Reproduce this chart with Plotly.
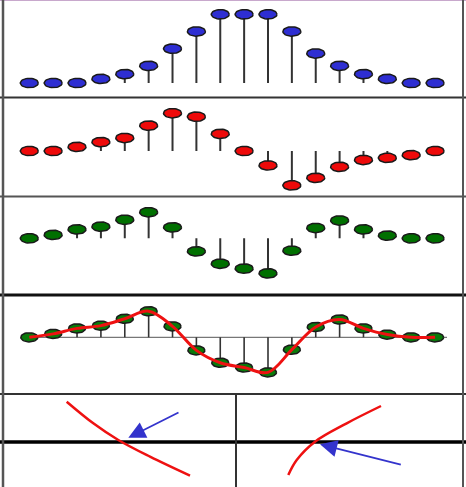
import numpy as np
import plotly.graph_objects as go

# ---------------- data ----------------
idx = list(range(18))
blue_vals = [0, 0, 0, 0.06, 0.13, 0.25, 0.5, 0.75, 1.0, 1.0, 1.0, 0.75, 0.43, 0.25, 0.13, 0.06, 0, 0]
red_vals = [0, 0, 0.06, 0.13, 0.19, 0.37, 0.55, 0.5, 0.25, 0, -0.21, -0.5, -0.39, -0.23, -0.13, -0.10, -0.06, 0]
green_vals = [0, 0.05, 0.13, 0.17, 0.27, 0.38, 0.16, -0.19, -0.37, -0.44, -0.51, -0.18, 0.15, 0.26, 0.13, 0.04, 0, 0]

# bottom panel (picture coordinates)
left_curve_x = [66.7, 93.3, 118.3, 150, 190]
left_curve_y = [401.7, 423.3, 440, 456.7, 475.7]
right_curve_x = [288.3, 296.7, 315, 346.7, 381]
right_curve_y = [475, 460, 441.7, 423.3, 406]
arrow_tails = [(180, 411.7), (402.3, 465)]
arrow_heads = [(128.3, 437.7), (320, 444.3)]

# ---------------- geometry ----------------
W, H = 466, 487
x0px, dxpx = 29.3, 23.87
scale = 68.7  # px per value unit
xrange_ = [-x0px / dxpx, (W - x0px) / dxpx]

# (top px, bottom px, baseline px)
panels = [(0, 97.5, 83), (97.5, 196.5, 151), (196.5, 295, 238.3), (295, 394, 337.3)]

fig = go.Figure()
layout = dict(width=W, height=H, margin=dict(l=0, r=0, t=0, b=0),
              paper_bgcolor="white", plot_bgcolor="white", showlegend=False)

def ellipse_trace(xs, ys, rx, ry, fill, xa, ya, lw=1.5):
    t = np.linspace(0, 2 * np.pi, 40)
    px, py = [], []
    for xv, yv in zip(xs, ys):
        px += list(xv + rx * np.cos(t)) + [None]
        py += list(yv + ry * np.sin(t)) + [None]
    return go.Scatter(x=px, y=py, mode="lines", fill="toself", fillcolor=fill,
                      line=dict(color="#1a1a1a", width=lw), xaxis=xa, yaxis=ya,
                      hoverinfo="skip")

def stems_trace(xs, ys, xa, ya, color="#333333", width=2):
    sx, sy = [], []
    for xv, yv in zip(xs, ys):
        sx += [xv, xv, None]
        sy += [0, yv, None]
    return go.Scatter(x=sx, y=sy, mode="lines", line=dict(color=color, width=width),
                      xaxis=xa, yaxis=ya, hoverinfo="skip")

series = [(blue_vals, "#2e2ed2"), (red_vals, "#ee0a0a"), (green_vals, "#007000"), (green_vals, "#0a7a0a")]

for k, ((top, bot, base), (vals, col)) in enumerate(zip(panels, series)):
    n = k + 1
    xa = "x" if n == 1 else f"x{n}"
    ya = "y" if n == 1 else f"y{n}"
    layout["xaxis" if n == 1 else f"xaxis{n}"] = dict(domain=[0, 1], range=xrange_, visible=False,
                                                      anchor=ya, fixedrange=True)
    layout["yaxis" if n == 1 else f"yaxis{n}"] = dict(domain=[1 - bot / H, 1 - top / H],
                                                      range=[-(bot - base) / scale, (base - top) / scale],
                                                      visible=False, anchor=xa, fixedrange=True)
    if n == 4:
        fig.add_trace(go.Scatter(x=[-0.15, 17.5], y=[0, 0], mode="lines",
                                 line=dict(color="#555555", width=1), xaxis=xa, yaxis=ya, hoverinfo="skip"))
        fig.add_trace(stems_trace(idx, vals, xa, ya, width=1.6))
        fig.add_trace(ellipse_trace(idx, vals, 8.5 / dxpx, 4.6 / scale, col, xa, ya, lw=1.5))
        fig.add_trace(go.Scatter(x=idx, y=vals, mode="lines",
                                 line=dict(color="#ee1111", width=3, shape="spline", smoothing=1.0),
                                 xaxis=xa, yaxis=ya, hoverinfo="skip"))
    else:
        fig.add_trace(stems_trace(idx, vals, xa, ya))
        fig.add_trace(ellipse_trace(idx, vals, 9.0 / dxpx, 4.7 / scale, col, xa, ya))

# bottom panel
layout["xaxis5"] = dict(domain=[0, 1], range=[0, W], visible=False, anchor="y5", fixedrange=True)
layout["yaxis5"] = dict(domain=[0, 1 - 394 / H], range=[H, 394], visible=False, anchor="x5", fixedrange=True)
for cx, cy in [(left_curve_x, left_curve_y), (right_curve_x, right_curve_y)]:
    fig.add_trace(go.Scatter(x=cx, y=cy, mode="lines",
                             line=dict(color="#ee1111", width=2.5, shape="spline", smoothing=1.0),
                             xaxis="x5", yaxis="y5", hoverinfo="skip"))

annotations = []
for (tx, ty), (hx, hy) in zip(arrow_tails, arrow_heads):
    annotations.append(dict(x=hx, y=hy, ax=tx, ay=ty, xref="x5", yref="y5", axref="x5", ayref="y5",
                            text="", showarrow=True, arrowhead=2, arrowsize=1.9, arrowwidth=1.8,
                            arrowcolor="#3333cc", standoff=0))
layout["annotations"] = annotations

def hline(ypx, w, c, x0=0, x1=1):
    return dict(type="line", xref="paper", yref="paper", x0=x0, x1=x1,
                y0=1 - ypx / H, y1=1 - ypx / H, line=dict(color=c, width=w), layer="below")

def vline(xpx, w, c, y0px=0, y1px=H):
    return dict(type="line", xref="paper", yref="paper", x0=xpx / W, x1=xpx / W,
                y0=1 - y0px / H, y1=1 - y1px / H, line=dict(color=c, width=w), layer="below")

shapes = [
    hline(0.5, 1, "#c8a8cc"),
    hline(97.5, 2, "#333333"),
    hline(196.5, 2, "#555555"),
    hline(295, 3, "#111111"),
    hline(394, 2, "#333333"),
    hline(442, 3.5, "#000000"),
    vline(236, 2, "#333333", 394, H),
    vline(3, 2.5, "#555555"),
    vline(463, 2, "#555555"),
]
layout["shapes"] = shapes
fig.update_layout(**layout)
fig.write_html("out.html", config={"displayModeBar": False, "staticPlot": True},
               post_script="document.body.style.margin='0';document.body.style.overflow='hidden';")
